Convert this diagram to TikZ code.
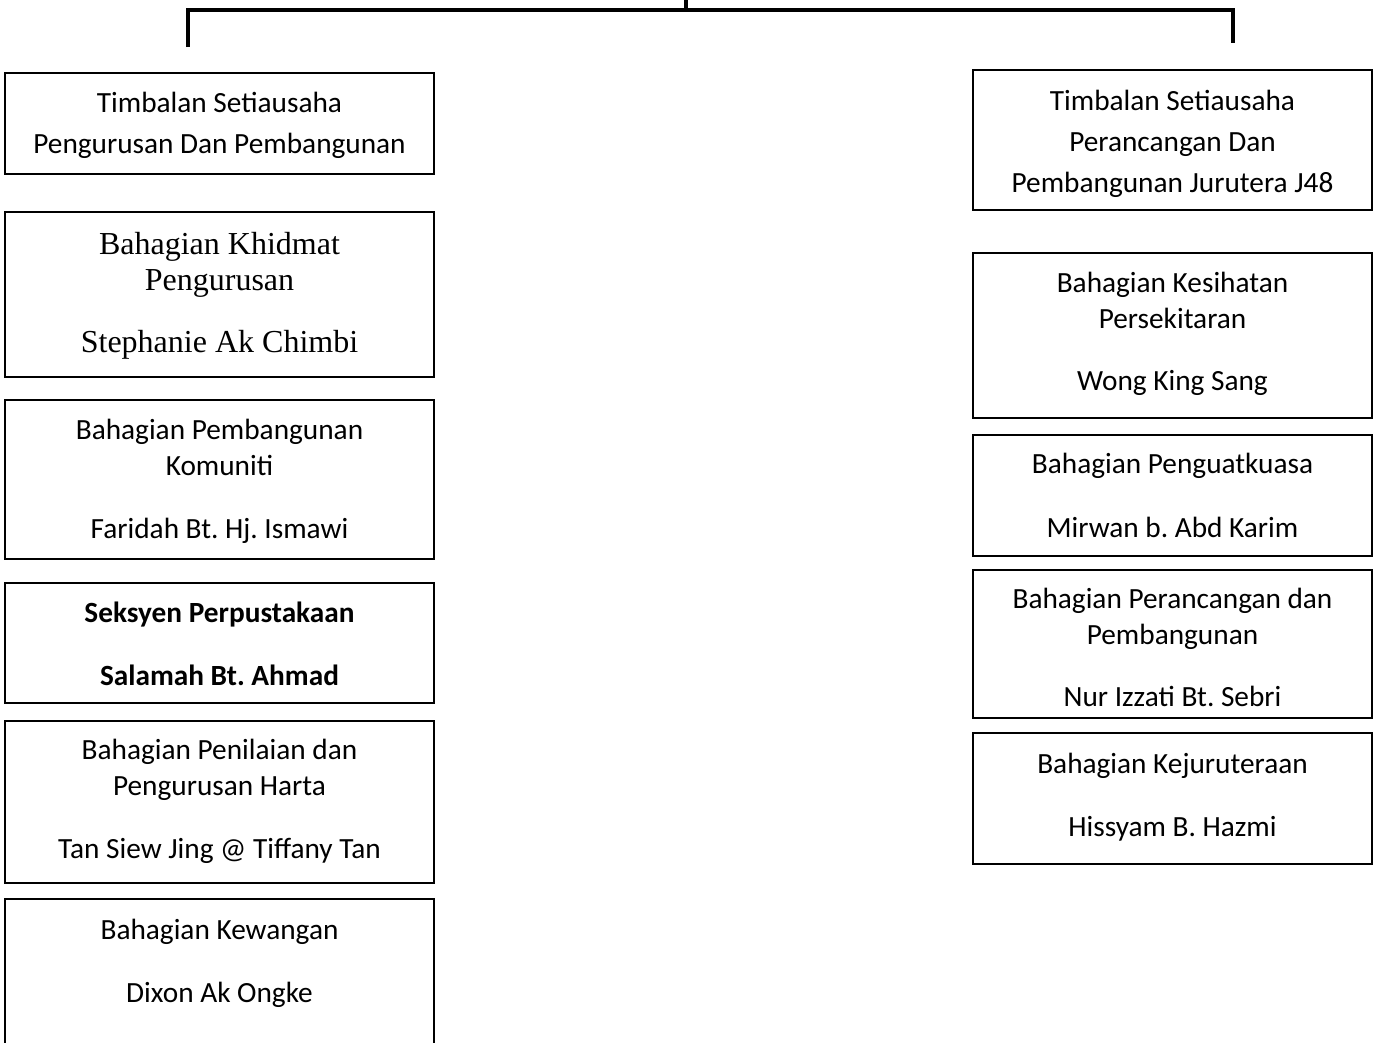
\documentclass[tikz,border=0pt]{standalone}
\usepackage{fontspec}
\setmainfont{Carlito}
\newfontfamily\timesfont{Liberation Serif}
\usetikzlibrary{positioning}
\frenchspacing

\tikzset{
  unit/.style={draw, line width=1.5pt, inner sep=0pt, align=center,
    font=\fontsize{29.3}{36}\selectfont},
  unitL/.style={unit, minimum width=429pt},
  unitR/.style={unit, minimum width=399pt},
  head/.style={font=\fontsize{29.3}{41}\selectfont},
  bus/.style={line width=4pt}
}

\begin{document}
\begin{tikzpicture}[x=1pt, y=-1pt]
\useasboundingbox (0,0) rectangle (1379,1042);
% bracket
\coordinate (root) at (686,-5);
\coordinate (bus) at (686,10);
\coordinate (jl) at (188,47);
\coordinate (jr) at (1233,43);
\draw[bus] (jl) |- (bus) -| (jr);
\draw[bus] (bus) -- (root);
% left column
\node[unitL, head, text height=80pt, text depth=21pt] (l_1) at (219.5,123.5)
    {Timbalan Setiausaha\\Pengurusan Dan Pembangunan};
\node[unitL, font=\timesfont\fontsize{32}{36}\selectfont, text height=140pt, text depth=25pt] (l_2) at (219.5,294.5)
    {Bahagian Khidmat\\Pengurusan\\[26pt]Stephanie Ak Chimbi};
\node[unitL, text height=138pt, text depth=21pt] (l_3) at (219.5,479.5)
    {Bahagian Pembangunan\\Komuniti\\[27pt]Faridah Bt. Hj. Ismawi};
\node[unitL, font=\bfseries\fontsize{29.3}{36}\selectfont, text height=102pt, text depth=18pt] (l_4) at (219.5,643)
    {Seksyen Perpustakaan\\[27pt]Salamah Bt. Ahmad};
\node[unitL, text height=137pt, text depth=25pt] (l_5) at (219.5,802)
    {Bahagian Penilaian dan\\Pengurusan Harta\\[27pt]Tan Siew Jing @ Tiffany Tan};
\node[unitL, text height=103pt, text depth=78pt] (l_6) at (219.5,989.5)
    {Bahagian Kewangan\\[27pt]Dixon Ak Ongke};
% right column
\node[unitR, head, text height=122pt, text depth=18pt] (r_1) at (1172.5,140)
    {Timbalan Setiausaha\\Perancangan Dan\\Pembangunan Jurutera J48};
\node[unitR, text height=137pt, text depth=28pt] (r_2) at (1172.5,335.5)
    {Bahagian Kesihatan\\Persekitaran\\[26pt]Wong King Sang};
\node[unitR, text height=102pt, text depth=19pt] (r_3) at (1172.5,495.5)
    {Bahagian Penguatkuasa\\[28pt]Mirwan b. Abd Karim};
\node[unitR, text height=136pt, text depth=12pt] (r_4) at (1172.5,644)
    {Bahagian Perancangan dan\\Pembangunan\\[26pt]Nur Izzati Bt. Sebri};
\node[unitR, text height=103pt, text depth=28pt] (r_5) at (1172.5,798.5)
    {Bahagian Kejuruteraan\\[27pt]Hissyam B. Hazmi};
\end{tikzpicture}
\end{document}
